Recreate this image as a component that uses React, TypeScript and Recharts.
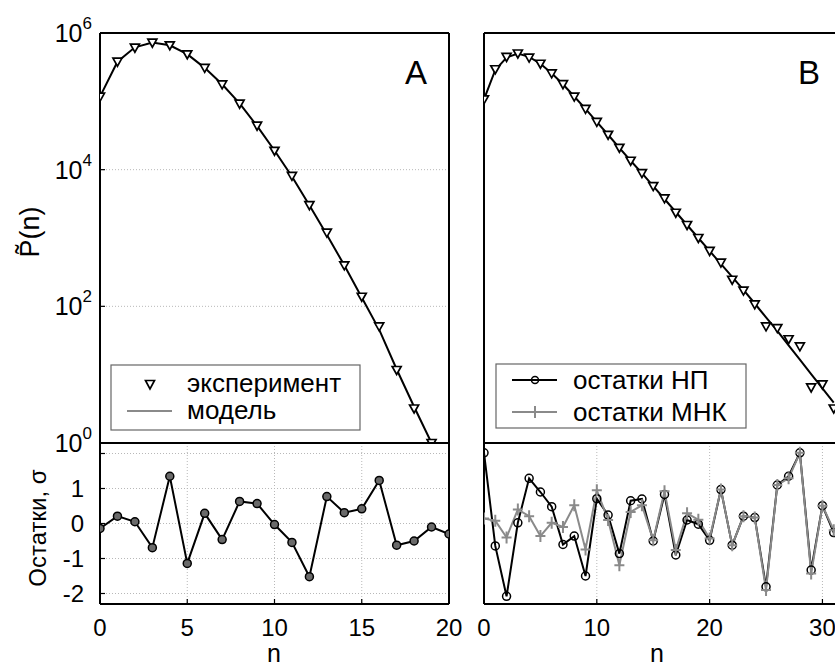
import React from "react";
import { ComposedChart, Line, XAxis, YAxis, CartesianGrid } from "recharts";

const FONT = '"Liberation Sans", Arial, sans-serif';

// panel A
const nA = [0, 1, 2, 3, 4, 5, 6, 7, 8, 9, 10, 11, 12, 13, 14, 15, 16, 17, 18, 19, 20];
const expA = [
  117000, 380000, 610000, 721000, 661000, 488000, 309000, 177000, 92300, 44000,
  18900, 8130, 3020, 1200, 398, 138, 51, 11.7, 3.2, 1.0,
];
const modelA = [
  117000, 380000, 617000, 724000, 661000, 490000, 309000, 178000, 93300, 43600,
  19100, 7940, 3020, 1120, 398, 135, 45.7, 12.0, 3.39, 1.0,
];
const resA = [
  -0.14, 0.21, 0.05, -0.69, 1.35, -1.14, 0.29, -0.46, 0.63, 0.57, -0.03, -0.54,
  -1.52, 0.77, 0.31, 0.42, 1.23, -0.62, -0.5, -0.1, -0.3,
];

// panel B
const nB = [
  0, 1, 2, 3, 4, 5, 6, 7, 8, 9, 10, 11, 12, 13, 14, 15, 16, 17, 18, 19, 20, 21, 22,
  23, 24, 25, 26, 27, 28, 29, 30, 31,
];
const expB = [
  107000, 295000, 447000, 501000, 437000, 355000, 257000, 178000, 117500, 77600,
  50100, 32400, 20900, 13500, 8910, 5750, 3800, 2340, 1550, 1000, 646, 437, 245,
  170, 107, 51, 48, 33, 26, 6.5, 7.2, 3.2,
];
const modelB = [
  107000, 288000, 437000, 501000, 447000, 355000, 257000, 178000, 117500, 77600,
  50100, 32400, 20900, 13500, 8910, 5750, 3720, 2400, 1550, 1000, 646, 417, 269,
  174, 110, 69, 43.6, 26.9, 16.6, 10.2, 6.3, 3.9,
];
const resNP = [
  2.02, -0.64, -2.08, 0.02, 1.29, 0.9, 0.48, -0.6, -0.36, -1.5, 0.71, 0.24, -0.86,
  0.65, 0.7, -0.5, 0.83, -0.9, 0.1, -0.02, -0.48, 0.97, -0.62, 0.21, 0.17, -1.81,
  1.1, 1.35, 2.02, -1.33, 0.51, -0.26,
];
const resMNK = [
  0.14, 0.08, -0.4, 0.4, 0.21, -0.36, 0.02, -0.1, 0.52, -0.74, 0.95, 0.1, -1.19,
  0.33, 0.52, -0.48, 0.92, -0.76, 0.29, 0.11, -0.43, 0.97, -0.62, 0.21, 0.17, -1.9,
  1.1, 1.29, 2.02, -1.43, 0.51, -0.19,
];

const ticksA = [0, 5, 10, 15, 20];
const ticksB = [0, 10, 20, 30];
const logTicks = [1, 100, 10000, 1000000];
const resTicks = [-2, -1, 0, 1, 2];

const topA = expA.map((v, i) => ({ n: nA[i], exp: v, model: modelA[i] }));
const botA = resA.map((v, i) => ({ n: nA[i], r: v }));
const topB = expB.map((v, i) => ({ n: nB[i], exp: v, model: modelB[i] }));
const botB = resNP.map((v, i) => ({ n: nB[i], np: v, mnk: resMNK[i] }));

const axisLine = { stroke: "#000", strokeWidth: 2 };
const tickLine = { stroke: "#000", strokeWidth: 1.2 };
const tickFont = { fill: "#000", fontSize: 24, fontFamily: FONT };
const GRID = "#b8b8b8";

const Triangle = (p: any) => {
  const { cx, cy } = p;
  if (cx == null || cy == null) return <g />;
  return (
    <path
      d={`M${cx - 4.5},${cy - 3.5}L${cx + 4.5},${cy - 3.5}L${cx},${cy + 4.5}Z`}
      fill="#fff"
      stroke="#000"
      strokeWidth={1.7}
    />
  );
};

const GreyPlus = (p: any) => {
  const { cx, cy } = p;
  if (cx == null || cy == null) return <g />;
  return (
    <path
      d={`M${cx - 5},${cy}H${cx + 5}M${cx},${cy - 6}V${cy + 6}`}
      stroke="#8a8a8a"
      strokeWidth={2}
    />
  );
};

const PowTick = (p: any) => {
  const { x, y, payload } = p;
  const e = Math.round(Math.log10(payload.value));
  return (
    <text x={x} y={y} textAnchor="end" fill="#000" fontFamily={FONT} fontSize={25}>
      <tspan dy={9}>10</tspan>
      <tspan dy={-13} fontSize={17}>
        {e}
      </tspan>
    </text>
  );
};

// thin mirror axes (top / right) just carry the frame and inward ticks
function frameX(id: string, xMax: number, xTicks: number[]) {
  return (
    <XAxis
      key={id}
      xAxisId={id}
      orientation="top"
      dataKey="n"
      type="number"
      domain={[0, xMax]}
      ticks={xTicks}
      interval={0}
      allowDataOverflow
      height={1}
      tick={false}
      tickSize={-5}
      axisLine={axisLine}
      tickLine={tickLine}
    />
  );
}

function TopPanel({ data, width, yWidth, right, xMax, xTicks, labels }: any) {
  return (
    <ComposedChart
      width={width}
      height={460}
      data={data}
      margin={{ top: 32, right, bottom: 16, left: 0 }}
    >
      <CartesianGrid stroke={GRID} strokeDasharray="1 2" />
      <XAxis
        dataKey="n"
        type="number"
        domain={[0, xMax]}
        ticks={xTicks}
        interval={0}
        allowDataOverflow
        height={1}
        tick={false}
        tickSize={-5}
        axisLine={axisLine}
        tickLine={tickLine}
      />
      {frameX("t", xMax, xTicks)}
      <YAxis
        scale="log"
        domain={[1, 1000000]}
        ticks={logTicks}
        interval={0}
        allowDataOverflow
        width={yWidth}
        tick={labels ? <PowTick /> : false}
        tickSize={-5}
        tickMargin={13}
        axisLine={axisLine}
        tickLine={tickLine}
      />
      <YAxis
        yAxisId="r"
        orientation="right"
        scale="log"
        domain={[1, 1000000]}
        ticks={logTicks}
        interval={0}
        allowDataOverflow
        width={1}
        tick={false}
        tickSize={-5}
        axisLine={axisLine}
        tickLine={tickLine}
      />
      <Line
        dataKey="model"
        stroke="#000"
        strokeWidth={2}
        dot={false}
        activeDot={false}
        isAnimationActive={false}
      />
      <Line
        dataKey="exp"
        stroke="none"
        dot={Triangle}
        activeDot={false}
        isAnimationActive={false}
      />
    </ComposedChart>
  );
}

function bottomAxes(xMax: number, xTicks: number[], yWidth: number, labels: boolean) {
  return [
    <CartesianGrid key="g" stroke={GRID} strokeDasharray="1 2" />,
    <XAxis
      key="xb"
      dataKey="n"
      type="number"
      domain={[0, xMax]}
      ticks={xTicks}
      interval={0}
      allowDataOverflow
      height={62}
      tick={tickFont}
      tickSize={-5}
      tickMargin={20}
      axisLine={axisLine}
      tickLine={tickLine}
    />,
    frameX("t", xMax, xTicks),
    <YAxis
      key="yl"
      domain={[-2.3, 2.3]}
      ticks={resTicks}
      interval={0}
      allowDataOverflow
      width={yWidth}
      tick={labels ? tickFont : false}
      tickFormatter={(v: number) => (v === 2 ? "" : String(v))}
      tickSize={-5}
      tickMargin={21}
      axisLine={axisLine}
      tickLine={tickLine}
    />,
    <YAxis
      key="yr"
      yAxisId="r"
      orientation="right"
      domain={[-2.3, 2.3]}
      ticks={resTicks}
      interval={0}
      allowDataOverflow
      width={1}
      tick={false}
      tickSize={-5}
      axisLine={axisLine}
      tickLine={tickLine}
    />,
  ];
}

export default function App() {
  return (
    <div
      style={{
        position: "absolute",
        left: 0,
        top: 0,
        width: 835,
        height: 666,
        overflow: "hidden",
        background: "#fff",
        fontFamily: FONT,
      }}
    >
      <div style={{ position: "absolute", left: 0, top: 0 }}>
        <TopPanel data={topA} width={460} yWidth={100} right={10} xMax={20} xTicks={ticksA} labels />
      </div>
      <div style={{ position: "absolute", left: 460, top: 0 }}>
        <TopPanel data={topB} width={386} yWidth={24} right={0} xMax={32} xTicks={ticksB} labels={false} />
      </div>
      <div style={{ position: "absolute", left: 0, top: 436 }}>
        <ComposedChart width={472} height={230} data={botA} margin={{ top: 6, right: 22, bottom: 0, left: 0 }}>
          {bottomAxes(20, ticksA, 100, true)}
          <Line
            dataKey="r"
            stroke="#000"
            strokeWidth={2}
            dot={{ r: 4, fill: "#6a6a6a", stroke: "#000", strokeWidth: 1.5 }}
            activeDot={false}
            isAnimationActive={false}
          />
        </ComposedChart>
      </div>
      <div style={{ position: "absolute", left: 460, top: 436 }}>
        <ComposedChart width={386} height={230} data={botB} margin={{ top: 6, right: 0, bottom: 0, left: 0 }}>
          {bottomAxes(32, ticksB, 24, false)}
          <Line
            dataKey="np"
            stroke="#000"
            strokeWidth={2}
            dot={{ r: 4, fill: "none", stroke: "#000", strokeWidth: 1.5 }}
            activeDot={false}
            isAnimationActive={false}
          />
          <Line
            dataKey="mnk"
            stroke="#8a8a8a"
            strokeWidth={2}
            dot={GreyPlus}
            activeDot={false}
            isAnimationActive={false}
          />
        </ComposedChart>
      </div>

      <svg
        width={835}
        height={666}
        style={{ position: "absolute", left: 0, top: 0, pointerEvents: "none" }}
        fontFamily={FONT}
      >
        <text x={30} y={232} fontSize={27} textAnchor="middle" dominantBaseline="central" transform="rotate(-90 30 232)">
          {"P\u0303(n)"}
        </text>
        <text x={37} y={528} fontSize={24} textAnchor="middle" dominantBaseline="central" transform="rotate(-90 37 528)">
          Остатки, σ
        </text>
        <text x={274} y={662} fontSize={25} textAnchor="middle">n</text>
        <text x={657} y={662} fontSize={25} textAnchor="middle">n</text>
        <text x={416} y={84} fontSize={33} textAnchor="middle">A</text>
        <text x={809} y={84} fontSize={33} textAnchor="middle">B</text>

        <rect x={111} y={365} width={249} height={65} fill="#fff" stroke="#666" strokeWidth={1.2} />
        <path d="M145.5,380.5L154.5,380.5L150,389Z" fill="#fff" stroke="#000" strokeWidth={1.7} />
        <text x={187} y={392} fontSize={26}>эксперимент</text>
        <line x1={127} x2={172} y1={411} y2={411} stroke="#8a8a8a" strokeWidth={2} />
        <text x={187} y={419} fontSize={26}>модель</text>

        <rect x={496} y={364} width={250} height={64} fill="#fff" stroke="#666" strokeWidth={1.2} />
        <line x1={512} x2={557} y1={380} y2={380} stroke="#000" strokeWidth={2} />
        <circle cx={535} cy={380} r={3.5} fill="none" stroke="#000" strokeWidth={1.5} />
        <text x={573} y={389} fontSize={26}>остатки НП</text>
        <line x1={512} x2={557} y1={412} y2={412} stroke="#8a8a8a" strokeWidth={2} />
        <path d="M530,412H540M535,406V418" stroke="#8a8a8a" strokeWidth={2} />
        <text x={573} y={421} fontSize={26}>остатки МНК</text>
      </svg>
    </div>
  );
}
